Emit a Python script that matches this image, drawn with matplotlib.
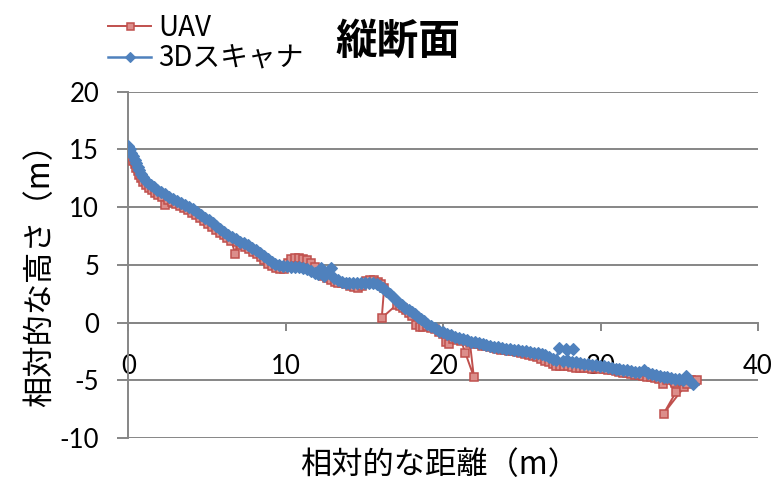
import matplotlib
matplotlib.use("Agg")
import matplotlib.pyplot as plt

plt.rcParams['font.family'] = ['Noto Sans CJK JP', 'DejaVu Sans']

# 3D scanner longitudinal profile (distance m, height m)
scan_x = [0.00, 0.10, 0.20, 0.30, 0.40, 0.50, 0.60, 0.70, 0.80, 0.95, 1.10, 1.25, 1.45, 1.65, 1.85,
          2.10, 2.35, 2.60, 2.85, 3.10, 3.35, 3.60, 3.85, 4.10, 4.35, 4.60, 4.85, 5.10, 5.35, 5.60,
          5.85, 6.10, 6.35, 6.60, 6.85, 7.10, 7.35, 7.60, 7.85, 8.10, 8.35, 8.60, 8.85, 9.10, 9.35,
          9.60, 9.85, 10.10, 10.35, 10.60, 10.85, 11.10, 11.35, 11.60, 11.85, 12.05, 12.25, 12.45,
          12.65, 12.85, 13.05, 13.30, 13.55, 13.80, 14.05, 14.30, 14.55, 14.80, 15.05, 15.30, 15.55,
          15.80, 16.00, 16.20, 16.40, 16.60, 16.80, 17.00, 17.20, 17.40, 17.60, 17.80, 18.00, 18.20,
          18.40, 18.60, 18.80, 19.00, 19.25, 19.50, 19.75, 20.00, 20.25, 20.50, 20.75, 21.00, 21.25,
          21.50, 21.75, 22.00, 22.25, 22.50, 22.75, 23.00, 23.25, 23.50, 23.75, 24.00, 24.25, 24.50,
          24.75, 25.00, 25.25, 25.50, 25.75, 26.00, 26.25, 26.50, 26.75, 27.00, 27.20, 27.35, 27.80,
          28.25, 27.60, 27.90, 28.20, 28.45, 28.70, 28.95, 29.20, 29.45, 29.70, 29.95, 30.20, 30.45,
          30.70, 30.95, 31.20, 31.45, 31.70, 31.95, 32.20, 32.45, 32.75, 33.00, 33.25, 33.50, 33.75,
          34.00, 34.25, 34.50, 34.75, 35.00, 35.25, 35.45, 35.65, 35.85]
scan_y = [15.3, 15.0, 14.7, 14.4, 14.1, 13.8, 13.5, 13.2, 12.9, 12.6, 12.3, 12.1, 11.9, 11.7, 11.5,
          11.3, 11.1, 10.9, 10.7, 10.5, 10.35, 10.2, 10.0, 9.8, 9.55, 9.3, 9.1, 8.85, 8.6, 8.35,
          8.1, 7.85, 7.6, 7.4, 7.2, 7.0, 6.85, 6.7, 6.5, 6.3, 6.05, 5.8, 5.5, 5.25, 5.05,
          4.95, 4.9, 4.9, 4.85, 4.85, 4.8, 4.75, 4.6, 4.45, 4.3, 4.2, 4.7, 4.0,
          4.3, 4.7, 3.9, 3.7, 3.55, 3.45, 3.4, 3.4, 3.4, 3.4, 3.4, 3.4, 3.4,
          3.35, 3.2, 3.0, 2.7, 2.45, 2.2, 1.95, 1.7, 1.5, 1.3, 1.1, 0.9, 0.7,
          0.5, 0.3, 0.1, -0.1, -0.3, -0.5, -0.7, -0.85, -1.0, -1.1, -1.25, -1.35, -1.45,
          -1.55, -1.65, -1.7, -1.8, -1.85, -1.95, -2.0, -2.1, -2.15, -2.2, -2.25, -2.3, -2.35,
          -2.4, -2.45, -2.5, -2.55, -2.6, -2.65, -2.7, -2.85, -3.0, -3.15, -3.25, -2.2, -2.25,
          -2.3, -3.3, -3.35, -3.4, -3.45, -3.5, -3.55, -3.6, -3.65, -3.7, -3.75, -3.8, -3.85,
          -3.9, -4.0, -4.05, -4.1, -4.15, -4.2, -4.25, -4.3, -4.1, -4.4, -4.45, -4.55, -4.6,
          -4.7, -4.75, -4.8, -4.85, -4.9, -4.95, -4.6, -5.1, -5.3]

# UAV longitudinal profile (distance m, height m)
uav_x = [0.00, 0.10, 0.20, 0.30, 0.40, 0.50, 0.60, 0.70, 0.80, 0.95, 1.10, 1.30, 1.50, 1.70, 1.90,
         2.15, 2.35, 2.55, 2.80, 3.05, 3.30, 3.55, 3.80, 4.05, 4.30, 4.55, 4.80, 5.05, 5.30, 5.55,
         5.80, 6.05, 6.30, 6.55, 6.80, 6.90, 7.15, 7.40, 7.65, 7.90, 8.15, 8.40, 8.65, 8.90, 9.15,
         9.40, 9.65, 9.90, 10.15, 10.35, 10.60, 10.85, 11.10, 11.35, 11.60, 11.85, 12.10, 12.35,
         12.60, 12.85, 13.10, 13.35, 13.60, 13.85, 14.10, 14.35, 14.60, 14.85, 15.10, 15.35, 15.60,
         15.85, 16.05, 16.25, 16.10, 17.05, 17.25, 17.45, 17.65, 17.85, 18.05, 18.25, 18.50, 18.75,
         19.00, 19.25, 19.50, 19.75, 20.00, 20.20, 20.40, 20.65, 20.90, 21.15, 21.40, 21.95, 21.70,
         21.95, 22.20, 22.45, 22.70, 22.95, 23.20, 23.45, 23.70, 23.95, 24.20, 24.45, 24.70, 24.95,
         25.20, 25.45, 25.70, 25.95, 26.20, 26.45, 26.70, 26.95, 27.20, 27.45, 27.70, 27.95, 28.20,
         28.45, 28.70, 28.95, 29.20, 29.45, 29.70, 29.95, 30.20, 30.45, 30.70, 30.95, 31.20, 31.45,
         31.70, 31.95, 32.20, 32.45, 32.70, 32.95, 33.20, 33.45, 33.70, 33.95, 34.20, 34.80, 34.00,
         35.30, 34.70, 35.00, 35.50, 35.75, 36.00, 36.10]
uav_y = [15.0, 14.6, 14.3, 14.0, 13.7, 13.4, 13.1, 12.8, 12.5, 12.2, 11.9, 11.65, 11.45, 11.25, 11.05,
         10.85, 10.2, 10.6, 10.45, 10.3, 10.1, 9.95, 9.75, 9.5, 9.3, 9.05, 8.8, 8.55, 8.3, 8.05,
         7.8, 7.55, 7.3, 7.1, 5.9, 6.95, 6.75, 6.55, 6.35, 6.15, 5.95, 5.7, 5.4, 5.1, 4.9,
         4.75, 4.65, 4.6, 5.2, 5.5, 5.55, 5.55, 5.5, 5.45, 5.2, 4.8, 4.3, 4.05,
         3.85, 3.7, 3.55, 3.45, 3.4, 3.3, 3.2, 3.05, 3.0, 3.2, 3.6, 3.7, 3.65,
         3.55, 3.3, 3.0, 0.4, 1.55, 1.4, 1.25, 1.05, 0.8, 0.55, -0.2, -0.35, -0.35,
         -0.3, -0.45, -0.6, -0.8, -1.0, -1.7, -1.9, -1.4, -1.55, -1.6, -2.6, -4.7, -1.75,
         -1.85, -1.9, -2.0, -2.05, -2.15, -2.2, -2.3, -2.35, -2.4, -2.45, -2.5, -2.55, -2.6,
         -2.7, -2.8, -2.9, -3.0, -3.15, -3.3, -3.45, -3.6, -3.75, -3.8, -3.8, -3.8, -3.85,
         -3.9, -3.9, -3.9, -3.95, -4.0, -3.95, -4.0, -4.05, -4.1, -4.15, -4.2, -4.25, -4.35,
         -4.4, -4.45, -4.5, -4.55, -4.6, -4.7, -4.75, -4.8, -4.9, -5.3, -5.0, -6.0, -7.9,
         -5.6, -5.2, -5.1, -5.3, -5.0, -5.1, -5.0]

x_ticks = [0, 10, 20, 30, 40]
y_ticks = [-10, -5, 0, 5, 10, 15, 20]

RED = '#C0504D'
BLUE = '#4F81BD'
GRID = '#868686'

fig = plt.figure(figsize=(7.78, 4.80), dpi=100)
ax = fig.add_axes([0.1649, 0.0875, 0.8094, 0.7215])

ax.plot(uav_x, uav_y, color=RED, lw=1.4, marker='s', markersize=5.6,
        markerfacecolor='#DC8E8B', markeredgecolor=RED, markeredgewidth=1.1,
        label='UAV', zorder=3)
ax.plot(scan_x, scan_y, color=BLUE, lw=1.8, marker='D', markersize=6.2,
        markerfacecolor=BLUE, markeredgecolor=BLUE, markeredgewidth=0.8,
        label='3Dスキャナ', zorder=4)

ax.set_xlim(0, 40)
ax.set_ylim(-10, 20)
ax.set_xticks(x_ticks)
ax.set_yticks(y_ticks)

# gridlines on y only, axes crossing at the origin
ax.yaxis.grid(True, color=GRID, lw=1.4)
ax.set_axisbelow(True)
for side in ('top', 'right'):
    ax.spines[side].set_visible(False)
ax.spines['bottom'].set_position(('data', 0))
ax.spines['bottom'].set_color(GRID)
ax.spines['bottom'].set_linewidth(1.4)
ax.spines['left'].set_color(GRID)
ax.spines['left'].set_linewidth(1.4)

tick_font = dict(family=['Lato', 'DejaVu Sans'], size=18.5)
ax.tick_params(axis='x', direction='out', length=5.5, width=1.4, color=GRID, pad=17)
ax.tick_params(axis='y', direction='out', length=8, width=1.4, color=GRID, pad=13)
ax.set_xticklabels([str(v) for v in x_ticks], **tick_font)
ax.set_yticklabels([str(v) for v in y_ticks], **tick_font)

fig.text(0.5656, 0.031, '相対的な距離（m）', ha='center', va='center', fontsize=22.5)
fig.text(0.051, 0.442, '相対的な高さ（m）', ha='center', va='center', fontsize=22.5,
         rotation=90)
fig.text(0.511, 0.912, '縦断面', ha='center', va='center', fontsize=30, fontweight='bold')

leg = ax.legend(loc='center left', bbox_to_anchor=(0.139, 0.91),
                bbox_transform=fig.transFigure, frameon=False, fontsize=20,
                handlelength=1.55, handletextpad=0.25, labelspacing=0.05,
                borderpad=0, borderaxespad=0, markerscale=0.9)

fig.savefig('out.png', dpi=100)
